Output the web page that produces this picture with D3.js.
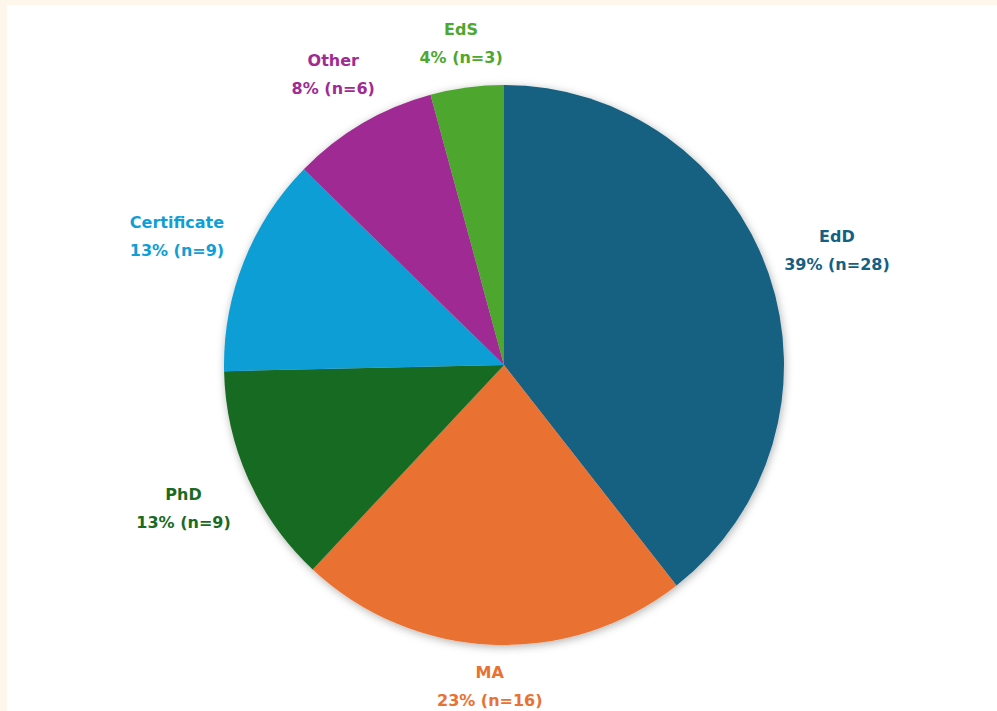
<!DOCTYPE html>
<html>
<head>
<meta charset="utf-8">
<script src="https://cdn.jsdelivr.net/npm/d3@7"></script>
<style>
  html, body { margin: 0; padding: 0; background: #fef6eb; }
  #chart { position: absolute; left: 7px; top: 5px; width: 990px; height: 706px; background: #ffffff; }
  svg { display: block; }
</style>
</head>
<body>
<div id="chart"></div>
<script>
// degree types, clockwise from 12 o'clock
const categories = ["EdD", "MA", "PhD", "Certificate", "Other", "EdS"];
const counts = [28, 16, 9, 9, 6, 3];
const percents = [39, 23, 13, 13, 8, 4];
const colors = ["#156082", "#e97132", "#196b24", "#0f9ed5", "#a02b93", "#4ea72e"];

const width = 990;
const height = 706;
const cx = 497;   // page x 504
const cy = 360;   // page y 365
const radius = 280;

const data = categories.map((c, i) => ({ name: c, n: counts[i], pct: percents[i], color: colors[i] }));

const svg = d3.select("#chart")
  .append("svg")
  .attr("width", width)
  .attr("height", height);

const defs = svg.append("defs");
const shadow = defs.append("filter")
  .attr("id", "pieShadow")
  .attr("x", "-20%").attr("y", "-20%")
  .attr("width", "140%").attr("height", "140%");
shadow.append("feDropShadow")
  .attr("dx", 1)
  .attr("dy", 2)
  .attr("stdDeviation", 4)
  .attr("flood-color", "#000")
  .attr("flood-opacity", 0.3);

const g = svg.append("g").attr("transform", `translate(${cx},${cy})`);

const pie = d3.pie()
  .sort(null)
  .value(d => d.n);

const arc = d3.arc()
  .innerRadius(0)
  .outerRadius(radius);

const arcs = pie(data);

g.append("g")
  .attr("filter", "url(#pieShadow)")
  .selectAll("path")
  .data(arcs)
  .join("path")
  .attr("fill", d => d.data.color)
  .attr("d", arc);

// labels outside the pie, pushed further out at the sides (wide text)
const labelPos = d => {
  const a = (d.startAngle + d.endAngle) / 2;
  const r = radius + 40 + 34 * Math.abs(Math.sin(a));
  return [r * Math.sin(a), -r * Math.cos(a)];
};

const labels = g.append("g")
  .attr("font-family", "'DejaVu Sans', sans-serif")
  .attr("font-weight", "bold")
  .attr("font-size", 16)
  .attr("text-anchor", "middle")
  .selectAll("text")
  .data(arcs)
  .join("text")
  .attr("fill", d => d.data.color)
  .attr("transform", d => `translate(${labelPos(d)})`);

labels.append("tspan")
  .attr("x", 0)
  .attr("y", -8)
  .text(d => d.data.name);

labels.append("tspan")
  .attr("x", 0)
  .attr("y", 20)
  .text(d => `${d.data.pct}% (n=${d.data.n})`);
</script>
</body>
</html>
